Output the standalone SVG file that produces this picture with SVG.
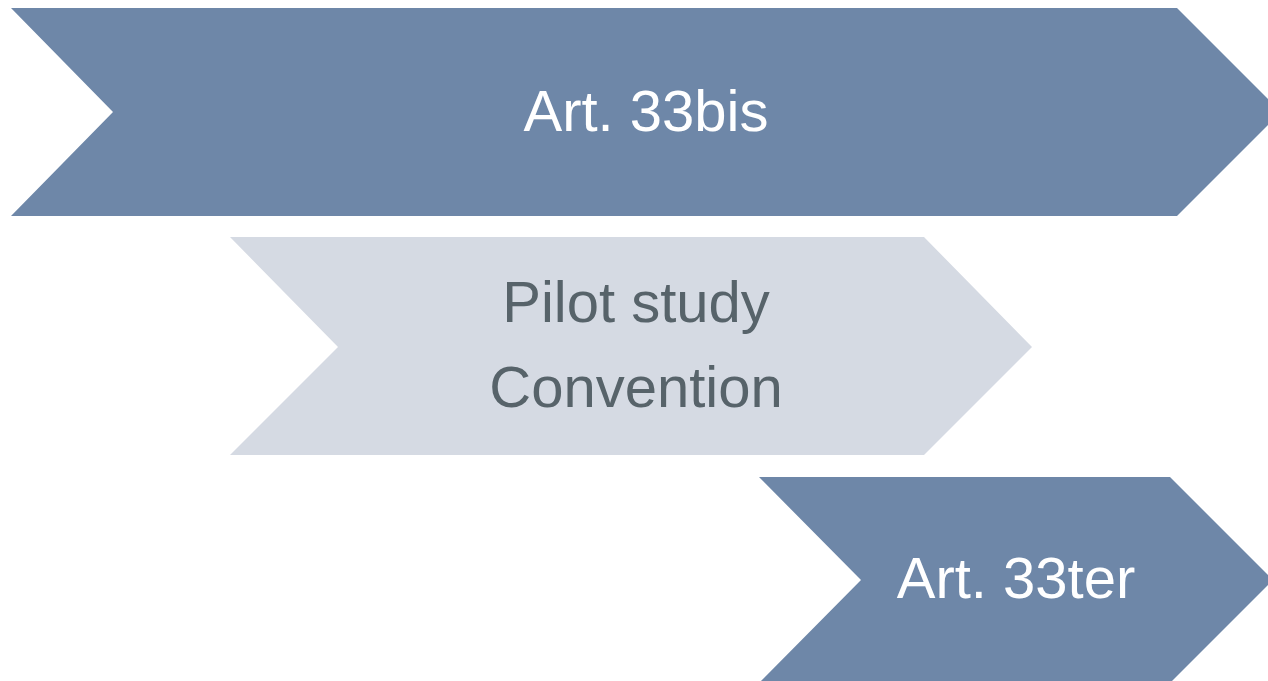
<svg xmlns="http://www.w3.org/2000/svg" width="1268" height="681" viewBox="0 0 1268 681">
<style>
.dark{fill:#6E87A8}
.light{fill:#D5DAE3}
.t{font-family:"Liberation Sans",Arial,sans-serif;font-size:58px;text-anchor:middle}
.w{fill:#FFFFFF}
.g{fill:#57636A}
</style>
<rect width="1268" height="681" fill="#FFFFFF"/>
<g id="node-art33bis">
<polygon class="dark" points="11,8 1177,8 1281,112 1177,216 11,216 113,112"/>
<text class="t w" x="646" y="131">Art. 33bis</text>
</g>
<g id="node-pilot">
<polygon class="light" points="230,237 924,237 1032,347 924,455 230,455 338,347"/>
<text class="t g" x="636" y="322">Pilot study</text>
<text class="t g" x="636" y="407">Convention</text>
</g>
<g id="node-art33ter">
<polygon class="dark" points="759,477 1170,477 1273,580 1170,683 759,683 861,580"/>
<text class="t w" x="1016" y="598">Art. 33ter</text>
</g>
<g id="connectors"></g>
</svg>
